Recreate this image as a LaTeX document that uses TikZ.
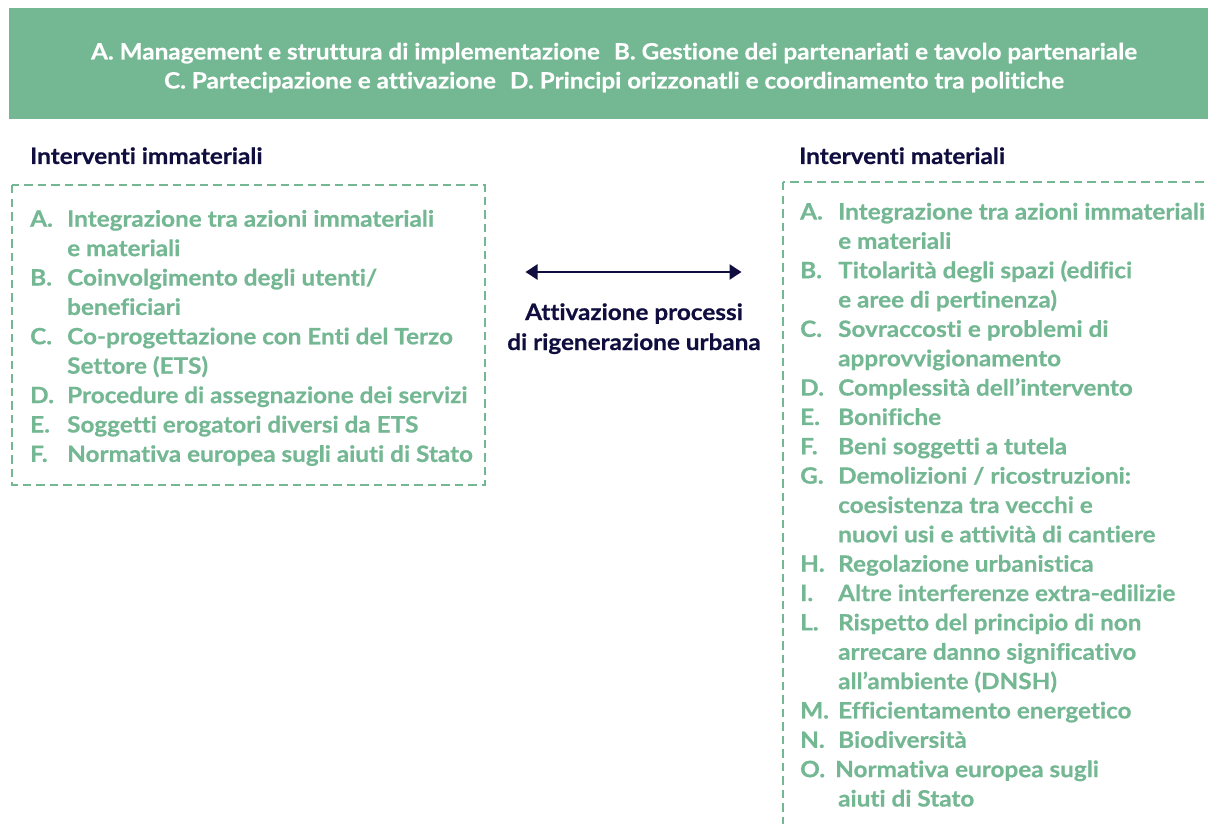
\documentclass[tikz,border=0pt]{standalone}
\usepackage{fontspec}
\setmainfont{Lato}[FakeStretch=1.08,FakeBold=0.6,Ligatures=NoCommon]
\usetikzlibrary{arrows.meta}
\definecolor{band}{HTML}{74B793}
\definecolor{navy}{HTML}{0F0E3E}
\begin{document}
\begin{tikzpicture}[x=1pt,y=-1pt,
  txt/.style={inner sep=0pt,anchor=base west,font=\fontsize{22.5}{27}\selectfont\bfseries},
  itm/.style={txt,text=band},
  hdr/.style={inner sep=0pt,anchor=base,text=white,font=\fontsize{22.5}{27}\selectfont\bfseries},
  ttl/.style={txt,text=navy},
  lbl/.style={inner sep=0pt,anchor=base,text=navy,font=\fontsize{22.5}{27}\selectfont\bfseries},
  dbox/.style={draw=band,line width=2.5pt,dash pattern=on 8.5pt off 5pt},
  link/.style={draw=navy,line width=2.5pt,{Triangle[length=12pt,width=15pt]}-{Triangle[length=12pt,width=15pt]}}]
\useasboundingbox (0,0) rectangle (1208,824);
\clip (0,0) rectangle (1208,824);
\fill[band] (9,8) rectangle (1208,119.5);
\node[hdr] (h1) at (614,59.5) {A. Management e struttura di implementazione\hspace{14pt}B. Gestione dei partenariati e tavolo partenariale};
\node[hdr] (h2) at (614,88.5) {C. Partecipazione e attivazione\hspace{14pt}D. Principi orizzonatli e coordinamento tra politiche};
\node[ttl] (t1) at (30,164) {Interventi immateriali};
\node[ttl] (t2) at (799,164) {Interventi materiali};
\draw[dbox] (12,185) rectangle (485,485);
\draw[dbox] (783,182) rectangle (1240,860);
% left list
\node[itm] (la) at (30,226.7) {A.};
\node[itm] (la1) at (67,226.7) {Integrazione tra azioni immateriali};
\node[itm] (la2) at (67,256.1) {e materiali};
\node[itm] (lb) at (30,285.5) {B.};
\node[itm] (lb1) at (67,285.5) {Coinvolgimento degli utenti/};
\node[itm] (lb2) at (67,314.9) {beneficiari};
\node[itm] (lc) at (30,344.3) {C.};
\node[itm] (lc1) at (67,344.3) {Co-progettazione con Enti del Terzo};
\node[itm] (lc2) at (67,373.7) {Settore (ETS)};
\node[itm] (ld) at (30,403.1) {D.};
\node[itm] (ld1) at (67,403.1) {Procedure di assegnazione dei servizi};
\node[itm] (le) at (30,432.5) {E.};
\node[itm] (le1) at (67,432.5) {Soggetti erogatori diversi da ETS};
\node[itm] (lf) at (30,461.9) {F.};
\node[itm] (lf1) at (67,461.9) {Normativa europea sugli aiuti di Stato};
% right list
\node[itm] (ra) at (800,219.5) {A.};
\node[itm] (ra1) at (838,219.5) {Integrazione tra azioni immateriali};
\node[itm] (ra2) at (838,248.85) {e materiali};
\node[itm] (rb) at (800,278.2) {B.};
\node[itm] (rb1) at (838,278.2) {Titolarità degli spazi (edifici};
\node[itm] (rb2) at (838,307.55) {e aree di pertinenza)};
\node[itm] (rc) at (800,336.9) {C.};
\node[itm] (rc1) at (838,336.9) {Sovraccosti e problemi di};
\node[itm] (rc2) at (838,366.25) {approvvigionamento};
\node[itm] (rd) at (800,395.6) {D.};
\node[itm] (rd1) at (838,395.6) {Complessità dell’intervento};
\node[itm] (re) at (800,424.95) {E.};
\node[itm] (re1) at (838,424.95) {Bonifiche};
\node[itm] (rf) at (800,454.3) {F.};
\node[itm] (rf1) at (838,454.3) {Beni soggetti a tutela};
\node[itm] (rg) at (800,483.65) {G.};
\node[itm] (rg1) at (838,483.65) {Demolizioni / ricostruzioni:};
\node[itm] (rg2) at (838,513) {coesistenza tra vecchi e};
\node[itm] (rg3) at (838,542.35) {nuovi usi e attività di cantiere};
\node[itm] (rh) at (800,571.7) {H.};
\node[itm] (rh1) at (838,571.7) {Regolazione urbanistica};
\node[itm] (ri) at (800,601.05) {I.};
\node[itm] (ri1) at (838,601.05) {Altre interferenze extra-edilizie};
\node[itm] (rl) at (800,630.4) {L.};
\node[itm] (rl1) at (838,630.4) {Rispetto del principio di non};
\node[itm] (rl2) at (838,659.75) {arrecare danno significativo};
\node[itm] (rl3) at (838,689.1) {all’ambiente (DNSH)};
\node[itm] (rm) at (800,718.45) {M.};
\node[itm] (rm1) at (838,718.45) {Efficientamento energetico};
\node[itm] (rn) at (800,747.8) {N.};
\node[itm] (rn1) at (838,747.8) {Biodiversità};
\node[itm] (ro) at (800,777.15) {O.};
\node[itm] (ro1) at (835,777.15) {Normativa europea sugli};
\node[itm] (ro2) at (838,806.5) {aiuti di Stato};
% centre
\coordinate (aL) at (525.5,272);
\coordinate (aR) at (741.5,272);
\draw[link] (aL) -- (aR);
\node[lbl] (m1) at (634,320) {Attivazione processi};
\node[lbl] (m2) at (634,350) {di rigenerazione urbana};
\end{tikzpicture}
\end{document}
